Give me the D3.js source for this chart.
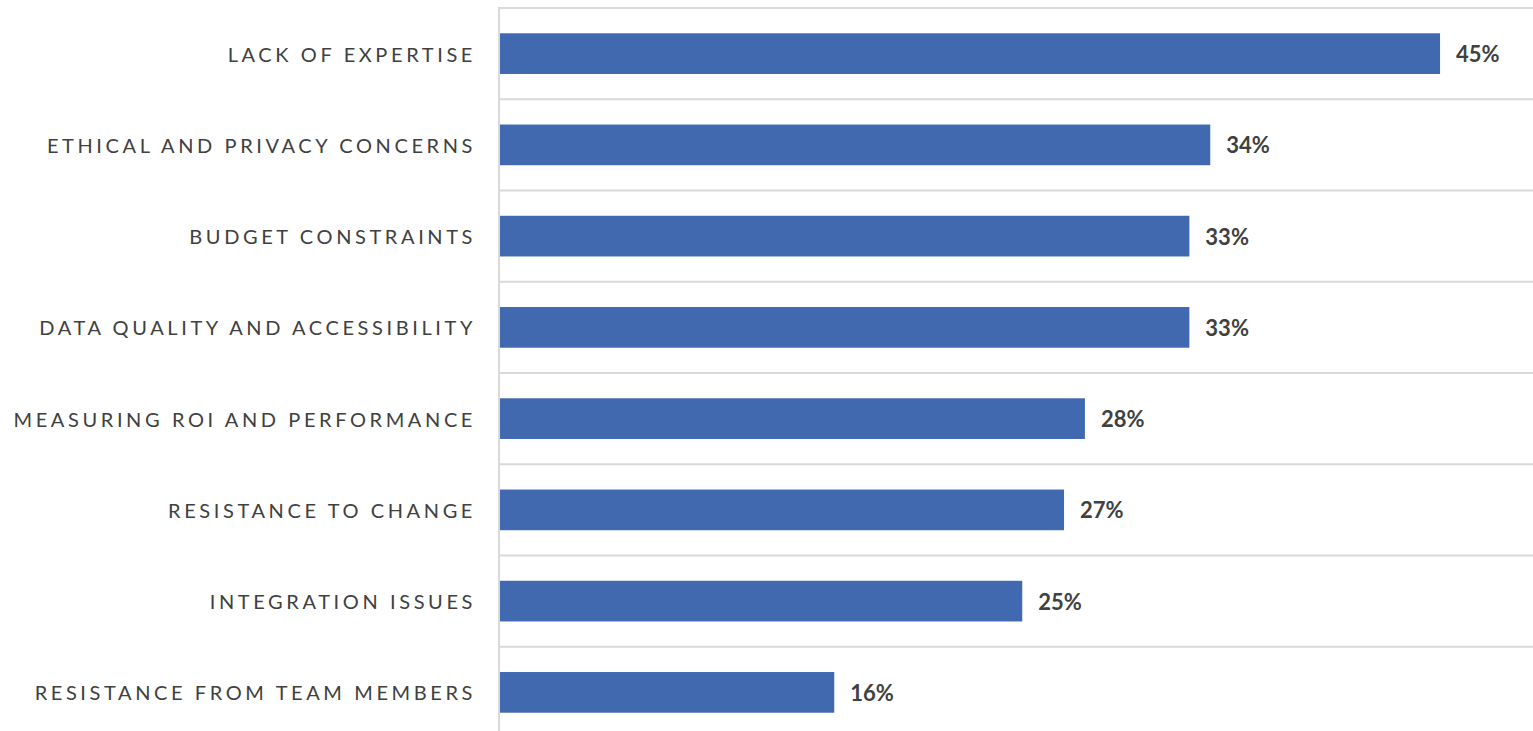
<!DOCTYPE html>
<html>
<head>
<meta charset="utf-8">
<script src="https://cdn.jsdelivr.net/npm/d3@7/dist/d3.min.js"></script>
<style>
  html, body { margin: 0; padding: 0; background: #fff; overflow: hidden; }
  svg { display: block; }
</style>
</head>
<body>
<svg id="chart" width="1533" height="731"></svg>
<script>
// Challenges reported, share of respondents (%)
const categories = [
  "LACK OF EXPERTISE",
  "ETHICAL AND PRIVACY CONCERNS",
  "BUDGET CONSTRAINTS",
  "DATA QUALITY AND ACCESSIBILITY",
  "MEASURING ROI AND PERFORMANCE",
  "RESISTANCE TO CHANGE",
  "INTEGRATION ISSUES",
  "RESISTANCE FROM TEAM MEMBERS"
];
const values = [45, 34, 33, 33, 28, 27, 25, 16];
const valueLabels = ["45%", "34%", "33%", "33%", "28%", "27%", "25%", "16%"];

const W = 1533, H = 731;
const plotLeft = 500, plotTop = 8;
const svg = d3.select("#chart");

const x = d3.scaleLinear().domain([0, 50]).range([plotLeft, plotLeft + 50 * 20.89]);
const y = d3.scaleBand()
  .domain(categories)
  .range([plotTop, plotTop + 8 * 91.25])
  .paddingInner(0.554)
  .paddingOuter(0.277);

const step = y.step();
const gridColor = "#d9d9d9";
const textColor = "#404040";

// horizontal separators between categories
const bounds = d3.range(categories.length + 1).map(i => plotTop + i * step);
svg.append("g").selectAll("line")
  .data(bounds)
  .join("line")
  .attr("x1", plotLeft - 1).attr("x2", W)
  .attr("y1", d => d).attr("y2", d => d)
  .attr("stroke", gridColor).attr("stroke-width", 2);

// category axis line
svg.append("line")
  .attr("x1", plotLeft - 1).attr("x2", plotLeft - 1)
  .attr("y1", plotTop - 1).attr("y2", H)
  .attr("stroke", gridColor).attr("stroke-width", 2);

// bars
svg.append("g").selectAll("rect")
  .data(values)
  .join("rect")
  .attr("x", x(0))
  .attr("y", (d, i) => y(categories[i]))
  .attr("width", d => x(d) - x(0))
  .attr("height", y.bandwidth())
  .attr("fill", "#4169b0");

// category labels
svg.append("g").selectAll("text")
  .data(categories)
  .join("text")
  .attr("x", 476)
  .attr("y", d => y(d) + y.bandwidth() / 2)
  .attr("text-anchor", "end")
  .attr("dominant-baseline", "central")
  .attr("fill", textColor)
  .style("font-family", "Lato, 'Open Sans', sans-serif")
  .style("font-size", "20px")
  .style("letter-spacing", "3.6px")
  .text(d => d);

// value labels
svg.append("g").selectAll("text")
  .data(values)
  .join("text")
  .attr("x", d => x(d) + 16)
  .attr("y", (d, i) => y(categories[i]) + y.bandwidth() / 2)
  .attr("dominant-baseline", "central")
  .attr("fill", textColor)
  .style("font-family", "Lato, 'Open Sans', sans-serif")
  .style("font-size", "22px")
  .style("font-weight", "bold")
  .text((d, i) => valueLabels[i]);
</script>
</body>
</html>
